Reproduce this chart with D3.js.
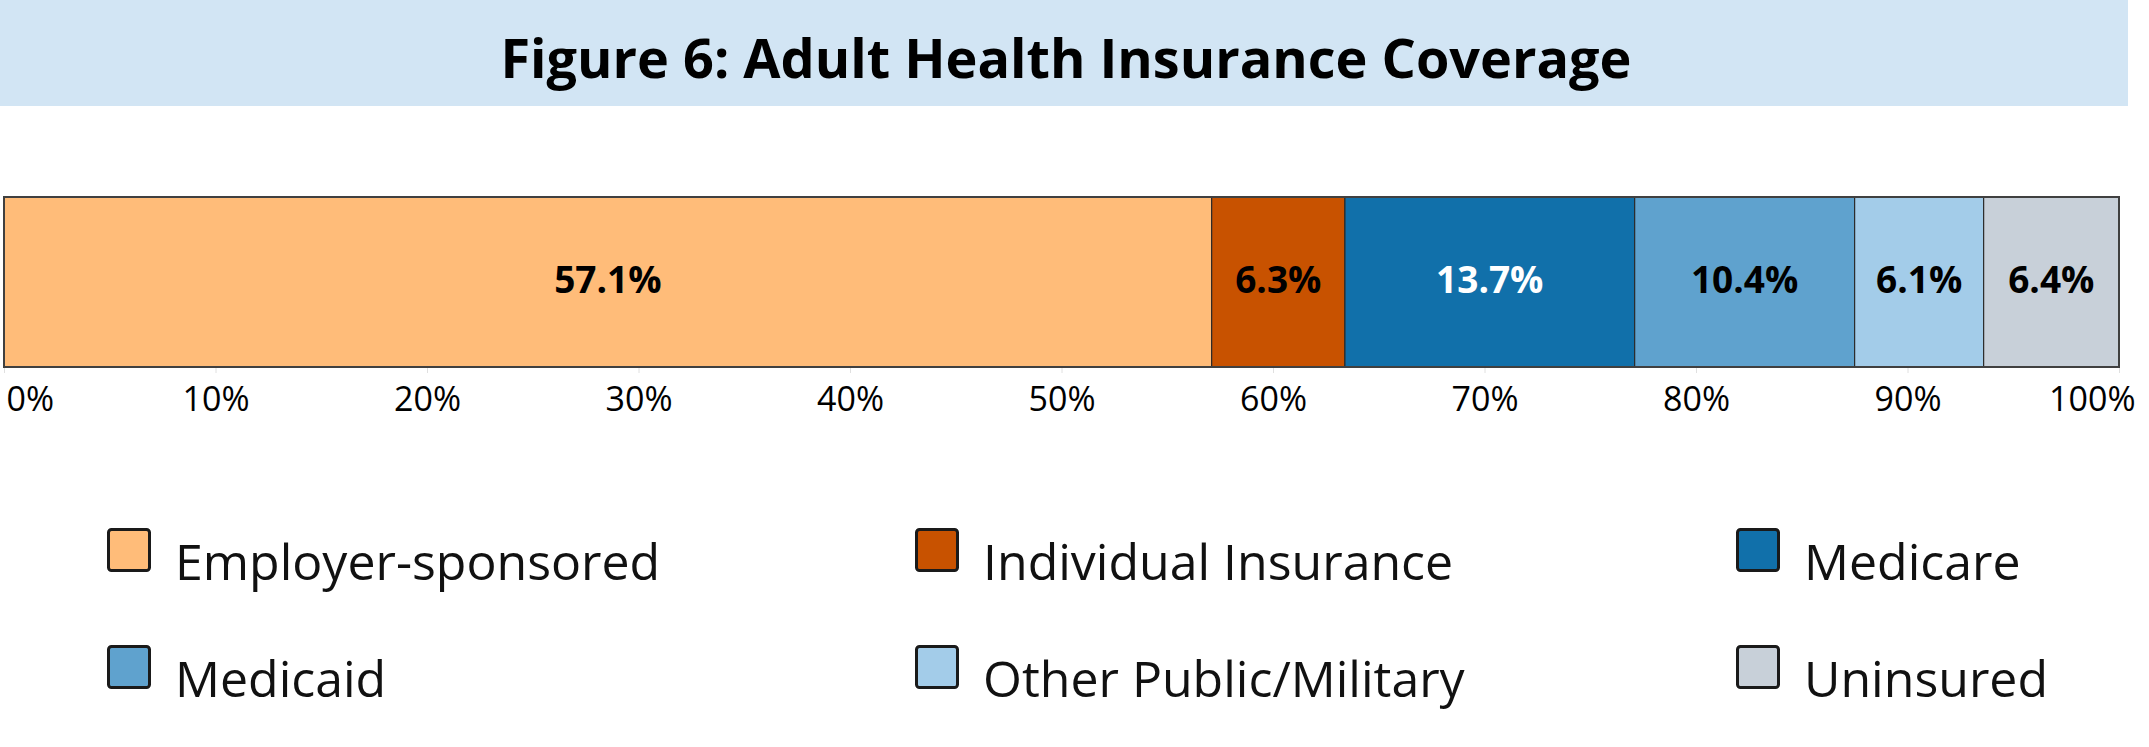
<!DOCTYPE html>
<html>
<head>
<meta charset="utf-8">
<script src="https://cdn.jsdelivr.net/npm/d3@7"></script>
<style>
  html, body { margin: 0; padding: 0; background: #ffffff; }
  svg { display: block; }
</style>
</head>
<body>
<script>
// ---- Data ----
const titleText = "Figure 6: Adult Health Insurance Coverage";
const categories = ["Employer-sponsored", "Individual Insurance", "Medicare", "Medicaid", "Other Public/Military", "Uninsured"];
const values = [57.1, 6.3, 13.7, 10.4, 6.1, 6.4];
const colors = ["#FFBC79", "#C85200", "#1170AA", "#5FA2CE", "#A3CCE9", "#C8D0D9"];
const labelColors = ["#000000", "#000000", "#ffffff", "#000000", "#000000", "#000000"];
const tickValues = [0, 10, 20, 30, 40, 50, 60, 70, 80, 90, 100];
const tickLabels = ["0%", "10%", "20%", "30%", "40%", "50%", "60%", "70%", "80%", "90%", "100%"];

const W = 2149, H = 747;
const svg = d3.select("body").append("svg").attr("width", W).attr("height", H);

// Title banner
svg.append("rect").attr("x", 0).attr("y", 0).attr("width", 2128).attr("height", 106).attr("fill", "#D2E5F4");
svg.append("text")
  .attr("x", 1066).attr("y", 78)
  .attr("text-anchor", "middle")
  .attr("font-family", "'Open Sans', sans-serif")
  .attr("font-weight", "700")
  .attr("font-size", 54)
  .attr("fill", "#000")
  .text(titleText);

// Scales
const x = d3.scaleLinear().domain([0, 100]).range([4, 2119]);
const barTop = 197, barBottom = 367;
const y = d3.scaleBand().domain(["all"]).range([barTop, barBottom]).padding(0);

let cum = 0;
const segs = values.map((v, i) => { const s = { i, v, x0: cum, x1: cum + v }; cum += v; return s; });

const g = svg.append("g");
g.selectAll("rect.seg").data(segs).enter().append("rect")
  .attr("class", "seg")
  .attr("x", d => x(d.x0))
  .attr("y", y("all"))
  .attr("width", d => x(d.x1) - x(d.x0))
  .attr("height", y.bandwidth())
  .attr("fill", d => colors[d.i])
  .attr("stroke", "#2b2b2b")
  .attr("stroke-width", 1.2);

// outer border
g.append("rect")
  .attr("x", x(0)).attr("y", y("all"))
  .attr("width", x(100) - x(0)).attr("height", y.bandwidth())
  .attr("fill", "none").attr("stroke", "#404040").attr("stroke-width", 2);

// segment labels
g.selectAll("text.lab").data(segs).enter().append("text")
  .attr("class", "lab")
  .attr("x", d => (x(d.x0) + x(d.x1)) / 2)
  .attr("y", 293)
  .attr("text-anchor", "middle")
  .attr("font-family", "'Open Sans', sans-serif")
  .attr("font-weight", "700")
  .attr("font-size", 37)
  .attr("fill", d => labelColors[d.i])
  .text(d => d.v.toFixed(1) + "%");

// Axis
const axis = d3.axisBottom(x)
  .tickValues(tickValues)
  .tickFormat((d, i) => tickLabels[i])
  .tickSize(5)
  .tickPadding(10);
const ax = svg.append("g").attr("transform", `translate(0,${barBottom + 1})`).call(axis);
ax.select(".domain").remove();
ax.selectAll(".tick line").attr("stroke", "#e0e0e0");
ax.selectAll(".tick text")
  .attr("font-family", "'Open Sans', sans-serif")
  .attr("font-size", 34)
  .attr("fill", "#000")
  .attr("dy", null)
  .attr("y", 43);
ax.selectAll(".tick text").filter((d) => d === 0).attr("text-anchor", "start").attr("x", 2);
ax.selectAll(".tick text").filter((d) => d === 100).attr("text-anchor", "end").attr("x", 16);

// Legend
const legCols = [107, 915, 1736];
const legRows = [528, 645];
const legend = svg.append("g");
const items = legend.selectAll("g.item").data(categories).enter().append("g")
  .attr("class", "item")
  .attr("transform", (d, i) => `translate(${legCols[i % 3]},${legRows[Math.floor(i / 3)]})`);
items.append("rect")
  .attr("x", 1.5).attr("y", 1.5).attr("width", 41).attr("height", 41)
  .attr("rx", 3)
  .attr("fill", (d, i) => colors[i])
  .attr("stroke", "#1a1a1a").attr("stroke-width", 3);
items.append("text")
  .attr("x", 68).attr("y", 52)
  .attr("font-family", "'Open Sans', sans-serif")
  .attr("font-size", 50)
  .attr("fill", "#111")
  .text(d => d);
</script>
</body>
</html>
